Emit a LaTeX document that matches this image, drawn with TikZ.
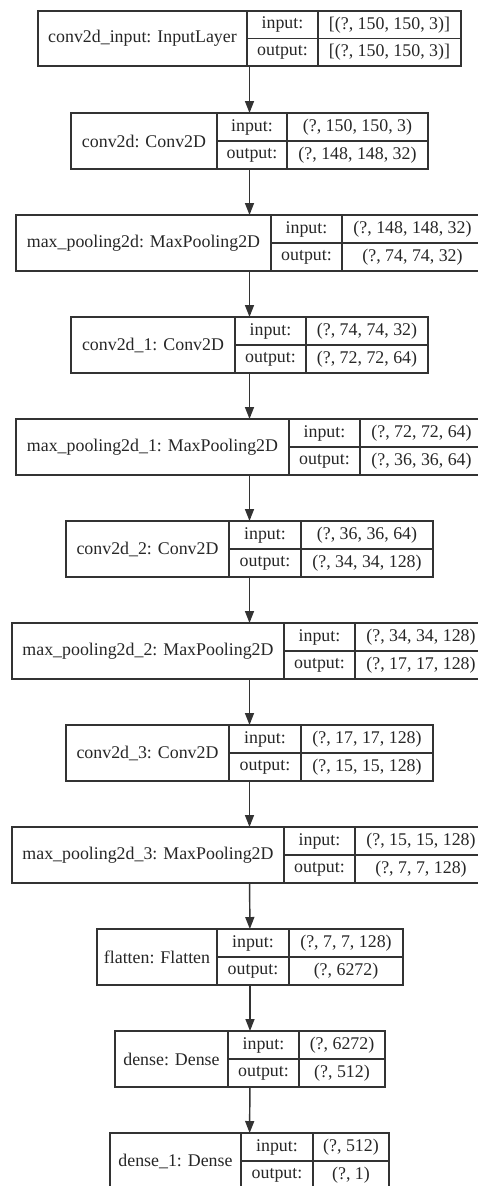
\documentclass[tikz,border=0pt]{standalone}
\usepackage{fontspec}
\setmainfont{Liberation Serif}
\usetikzlibrary{arrows.meta,fit}
\tikzset{every picture/.style={line width=1.1pt}}
\tikzset{
  layer/.style={draw=black!80, inner sep=0pt, outer sep=0pt},
  cell/.style={draw=black!80},
  lbl/.style={inner sep=0.75pt, text=black!85, font=\fontsize{13.4pt}{16pt}\selectfont},
  flow/.style={draw=black!80, -{Triangle[length=9pt,width=6.75pt]}}
}

\begin{document}
\begin{tikzpicture}[x=0.75pt,y=0.75pt,yscale=-1,xscale=1]
\useasboundingbox (0,0) rectangle (478,1186);

%Layer: conv2d_input
\node[layer, fit={(38,11) (461,66)}] (input) {};
\draw[cell] (247,11) -- (247,66) (318,11) -- (318,66) (247,38.5) -- (461,38.5);
\node[lbl] (input-name) at (142.5,38.5) {conv2d\_input: InputLayer};
\node[lbl] (input-ki) at (282.5,24.75) {input:};
\node[lbl] (input-ko) at (282.5,52.25) {output:};
\node[lbl] (input-vi) at (389.5,24.75) {[(?, 150, 150, 3)]};
\node[lbl] (input-vo) at (389.5,52.25) {[(?, 150, 150, 3)]};

%Layer: conv2d
\node[layer, fit={(71,113) (428,169)}] (conv) {};
\draw[cell] (217,113) -- (217,169) (287,113) -- (287,169) (217,141) -- (428,141);
\node[lbl] (conv-name) at (144,141) {conv2d: Conv2D};
\node[lbl] (conv-ki) at (252,127) {input:};
\node[lbl] (conv-ko) at (252,155) {output:};
\node[lbl] (conv-vi) at (357.5,127) {(?, 150, 150, 3)};
\node[lbl] (conv-vo) at (357.5,155) {(?, 148, 148, 32)};

%Layer: max_pooling2d
\node[layer, fit={(16,215) (483,271)}] (pool) {};
\draw[cell] (271,215) -- (271,271) (342,215) -- (342,271) (271,243) -- (483,243);
\node[lbl] (pool-name) at (143.5,243) {max\_pooling2d: MaxPooling2D};
\node[lbl] (pool-ki) at (306.5,229) {input:};
\node[lbl] (pool-ko) at (306.5,257) {output:};
\node[lbl] (pool-vi) at (412.5,229) {(?, 148, 148, 32)};
\node[lbl] (pool-vo) at (412.5,257) {(?, 74, 74, 32)};

%Layer: conv2d_1
\node[layer, fit={(71,317) (428,373)}] (conv1) {};
\draw[cell] (235,317) -- (235,373) (306,317) -- (306,373) (235,345) -- (428,345);
\node[lbl] (conv1-name) at (153,345) {conv2d\_1: Conv2D};
\node[lbl] (conv1-ki) at (270.5,331) {input:};
\node[lbl] (conv1-ko) at (270.5,359) {output:};
\node[lbl] (conv1-vi) at (367,331) {(?, 74, 74, 32)};
\node[lbl] (conv1-vo) at (367,359) {(?, 72, 72, 64)};

%Layer: max_pooling2d_1
\node[layer, fit={(16,419) (483,475)}] (pool1) {};
\draw[cell] (289,419) -- (289,475) (360,419) -- (360,475) (289,447) -- (483,447);
\node[lbl] (pool1-name) at (152.5,447) {max\_pooling2d\_1: MaxPooling2D};
\node[lbl] (pool1-ki) at (324.5,433) {input:};
\node[lbl] (pool1-ko) at (324.5,461) {output:};
\node[lbl] (pool1-vi) at (421.5,433) {(?, 72, 72, 64)};
\node[lbl] (pool1-vo) at (421.5,461) {(?, 36, 36, 64)};

%Layer: conv2d_2
\node[layer, fit={(66,521) (433,577)}] (conv2) {};
\draw[cell] (229,521) -- (229,577) (301,521) -- (301,577) (229,549) -- (433,549);
\node[lbl] (conv2-name) at (147.5,549) {conv2d\_2: Conv2D};
\node[lbl] (conv2-ki) at (265,535) {input:};
\node[lbl] (conv2-ko) at (265,563) {output:};
\node[lbl] (conv2-vi) at (367,535) {(?, 36, 36, 64)};
\node[lbl] (conv2-vo) at (367,563) {(?, 34, 34, 128)};

%Layer: max_pooling2d_2
\node[layer, fit={(12,623) (487,679)}] (pool2) {};
\draw[cell] (284,623) -- (284,679) (355,623) -- (355,679) (284,651) -- (487,651);
\node[lbl] (pool2-name) at (148,651) {max\_pooling2d\_2: MaxPooling2D};
\node[lbl] (pool2-ki) at (319.5,637) {input:};
\node[lbl] (pool2-ko) at (319.5,665) {output:};
\node[lbl] (pool2-vi) at (421,637) {(?, 34, 34, 128)};
\node[lbl] (pool2-vo) at (421,665) {(?, 17, 17, 128)};

%Layer: conv2d_3
\node[layer, fit={(66,725) (433,781)}] (conv3) {};
\draw[cell] (229,725) -- (229,781) (301,725) -- (301,781) (229,753) -- (433,753);
\node[lbl] (conv3-name) at (147.5,753) {conv2d\_3: Conv2D};
\node[lbl] (conv3-ki) at (265,739) {input:};
\node[lbl] (conv3-ko) at (265,767) {output:};
\node[lbl] (conv3-vi) at (367,739) {(?, 17, 17, 128)};
\node[lbl] (conv3-vo) at (367,767) {(?, 15, 15, 128)};

%Layer: max_pooling2d_3
\node[layer, fit={(12,827) (487,883)}] (pool3) {};
\draw[cell] (284,827) -- (284,883) (355,827) -- (355,883) (284,855) -- (487,855);
\node[lbl] (pool3-name) at (148,855) {max\_pooling2d\_3: MaxPooling2D};
\node[lbl] (pool3-ki) at (319.5,841) {input:};
\node[lbl] (pool3-ko) at (319.5,869) {output:};
\node[lbl] (pool3-vi) at (421,841) {(?, 15, 15, 128)};
\node[lbl] (pool3-vo) at (421,869) {(?, 7, 7, 128)};

%Layer: flatten
\node[layer, fit={(97,929) (403,985)}] (flat) {};
\draw[cell] (217,929) -- (217,985) (289,929) -- (289,985) (217,957) -- (403,957);
\node[lbl] (flat-name) at (157,957) {flatten: Flatten};
\node[lbl] (flat-ki) at (253,943) {input:};
\node[lbl] (flat-ko) at (253,971) {output:};
\node[lbl] (flat-vi) at (346,943) {(?, 7, 7, 128)};
\node[lbl] (flat-vo) at (346,971) {(?, 6272)};

%Layer: dense
\node[layer, fit={(115,1031) (385,1087)}] (dense) {};
\draw[cell] (228,1031) -- (228,1087) (299,1031) -- (299,1087) (228,1059) -- (385,1059);
\node[lbl] (dense-name) at (171.5,1059) {dense: Dense};
\node[lbl] (dense-ki) at (263.5,1045) {input:};
\node[lbl] (dense-ko) at (263.5,1073) {output:};
\node[lbl] (dense-vi) at (342,1045) {(?, 6272)};
\node[lbl] (dense-vo) at (342,1073) {(?, 512)};

%Layer: dense_1
\node[layer, fit={(110,1133) (389,1189)}] (dense1) {};
\draw[cell] (241,1133) -- (241,1189) (313,1133) -- (313,1189) (241,1161) -- (389,1161);
\node[lbl] (dense1-name) at (175.5,1161) {dense\_1: Dense};
\node[lbl] (dense1-ki) at (277,1147) {input:};
\node[lbl] (dense1-ko) at (277,1175) {output:};
\node[lbl] (dense1-vi) at (351,1147) {(?, 512)};
\node[lbl] (dense1-vo) at (351,1175) {(?, 1)};

%Arrows
\draw[flow] (input) -- (conv);
\draw[flow] (conv) -- (pool);
\draw[flow] (pool) -- (conv1);
\draw[flow] (conv1) -- (pool1);
\draw[flow] (pool1) -- (conv2);
\draw[flow] (conv2) -- (pool2);
\draw[flow] (pool2) -- (conv3);
\draw[flow] (conv3) -- (pool3);
\draw[flow] (pool3) -- (flat);
\draw[flow] (flat) -- (dense);
\draw[flow] (dense) -- (dense1);
\end{tikzpicture}
\end{document}
